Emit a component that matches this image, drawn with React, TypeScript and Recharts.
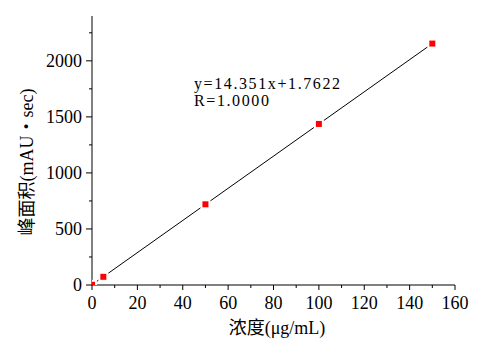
import React from "react";
import { ComposedChart, XAxis, YAxis, Scatter, Line } from "recharts";

const concentration = [0, 5, 50, 100, 150];
const peakArea = [2, 73, 720, 1437, 2154];
const fitX = [0, 150];
const fitY = [2, 2154];
const xTicks = [0, 10, 20, 30, 40, 50, 60, 70, 80, 90, 100, 110, 120, 130, 140, 150, 160];
const yTicks = [0, 250, 500, 750, 1000, 1250, 1500, 1750, 2000, 2250];
const equationText = "y=14.351x+1.7622";
const rText = "R=1.0000";
const xLabel = "浓度(μg/mL)";
const yLabel = "峰面积(mAU・sec)";

const pointData = concentration.map((x, i) => ({ x, y: peakArea[i] }));
const fitData = fitX.map((x, i) => ({ x, y: fitY[i] }));

const FONT = '"Liberation Serif", "Noto Sans CJK SC", serif';
const textStyle = { fontFamily: FONT, fontSize: 18, fill: "#000" };

const XTick = (props: any) => {
  const { x, y, payload } = props;
  const major = payload.value % 20 === 0;
  return (
    <g>
      <line x1={x} x2={x} y1={y} y2={y + (major ? 5 : 3)} stroke="#000" strokeWidth={1} />
      {major && (
        <text x={x} y={y + 24} textAnchor="middle" style={textStyle}>
          {payload.value}
        </text>
      )}
    </g>
  );
};

const YTick = (props: any) => {
  const { x, y, payload } = props;
  const major = payload.value % 500 === 0;
  return (
    <g>
      <line x1={x} x2={x - (major ? 6 : 3)} y1={y} y2={y} stroke="#000" strokeWidth={1} />
      {major && (
        <text x={x - 10} y={y + 6} textAnchor="end" style={textStyle}>
          {payload.value}
        </text>
      )}
    </g>
  );
};

const Marker = (props: any) => {
  const { cx, cy } = props;
  return (
    <g>
      <rect x={cx - 5} y={cy - 5} width={10} height={10} fill="#fff" />
      <rect x={cx - 3} y={cy - 3} width={6} height={6} fill="#ff0000" />
    </g>
  );
};

export default function App() {
  return (
    <div style={{ position: "absolute", left: 0, top: 0, width: 499, height: 346, background: "#fff" }}>
      <ComposedChart
        width={499}
        height={346}
        margin={{ top: 16, right: 44, bottom: 0, left: 0 }}
      >
        <XAxis
          dataKey="x"
          type="number"
          domain={[0, 160]}
          ticks={xTicks}
          interval={0}
          allowDataOverflow
          height={61}
          tickSize={0}
          tickMargin={0}
          tick={<XTick />}
          axisLine={{ stroke: "#000", strokeWidth: 1 }}
          tickLine={false}
        />
        <YAxis
          dataKey="y"
          type="number"
          domain={[0, 2400]}
          ticks={yTicks}
          interval={0}
          allowDataOverflow
          width={92}
          tickSize={0}
          tickMargin={0}
          tick={<YTick />}
          axisLine={{ stroke: "#000", strokeWidth: 1 }}
          tickLine={false}
        />
        <Line
          data={fitData}
          dataKey="y"
          stroke="#000"
          strokeWidth={1}
          dot={false}
          activeDot={false}
          isAnimationActive={false}
        />
        <Scatter data={pointData} dataKey="y" shape={<Marker />} isAnimationActive={false} />
        <text x={194} y={89} style={{ ...textStyle, fontSize: 16, letterSpacing: 1.6 }}>
          {equationText}
        </text>
        <text x={194} y={106} style={{ ...textStyle, fontSize: 16, letterSpacing: 1.6 }}>
          {rText}
        </text>
        <text x={277} y={334} textAnchor="middle" style={textStyle}>
          {xLabel}
        </text>
        <text
          x={0}
          y={0}
          textAnchor="middle"
          transform="translate(33, 162) rotate(-90)"
          style={textStyle}
        >
          {yLabel}
        </text>
      </ComposedChart>
    </div>
  );
}
